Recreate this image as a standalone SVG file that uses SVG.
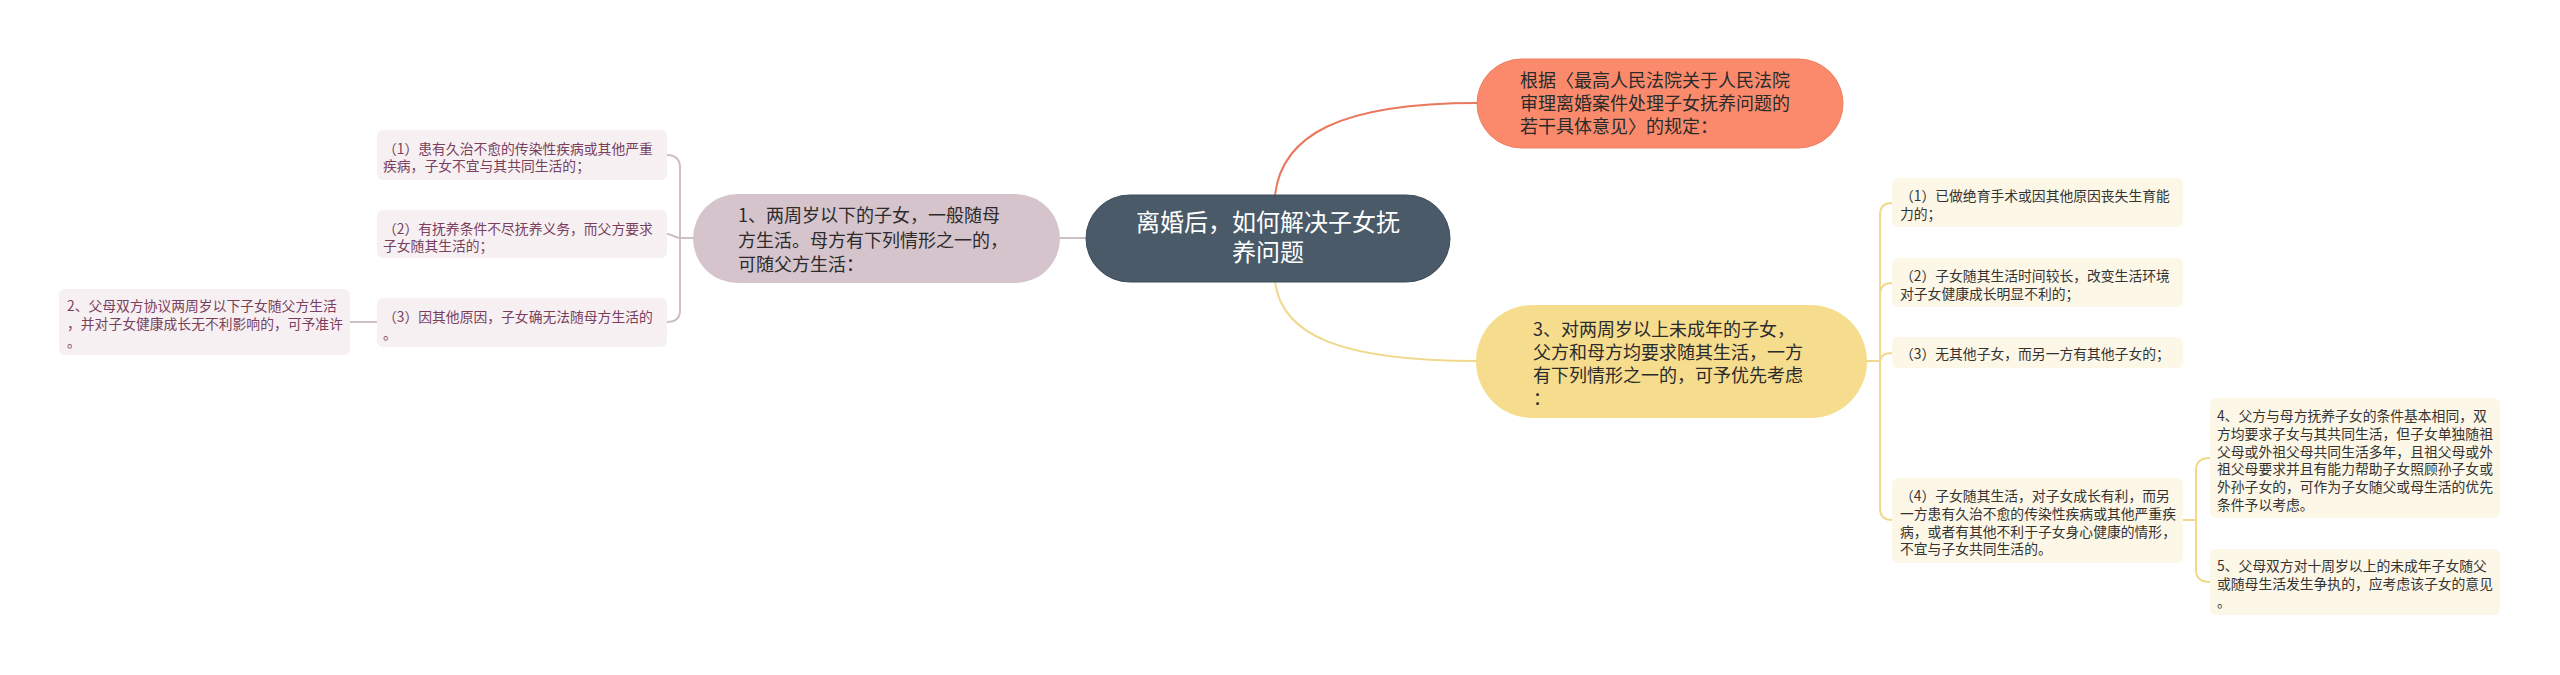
<svg xmlns="http://www.w3.org/2000/svg" width="2560" height="675" viewBox="0 0 2560 675">
<style>
text{font-family:"Microsoft YaHei","Noto Sans CJK SC","Noto Sans",sans-serif}
.c{fill:none;stroke-width:2;stroke-linecap:round}
.co{stroke:#e9785d}.cy{stroke:#f0d98c}.cp{stroke:#cfbec6}
.t18{font-size:18px;fill:#2b2b2b}
.sl{fill:#f6f0f3}.sr{fill:#fdf7e7}
.tl{font-size:13.8px;fill:#7a3f5d}
.tr{font-size:13.8px;fill:#333333}
</style>
<rect width="2560" height="675" fill="#ffffff"/>
<g id="connectors">
<path class="c co" d="M1275,195 C1282,135 1340,103 1477,103"/>
<path class="c cy" d="M1275,282 C1282,335 1340,361 1477,361"/>
<path class="c cp" d="M1060,238 L1086,238"/>
<path class="c cp" d="M693,238 L680,238"/>
<path class="c cp" d="M680,238 L680,168 Q680,155 667,155"/>
<path class="c cp" d="M680,238 C675,238 672,234 667,234"/>
<path class="c cp" d="M680,238 L680,310 Q680,322 667,322"/>
<path class="c cp" d="M377,322 L350,322"/>
<path class="c cy" d="M1867,361 L1880,361"/>
<path class="c cy" d="M1880,361 L1880,215 Q1880,203 1892,203"/>
<path class="c cy" d="M1880,361 L1880,295 Q1880,283 1892,283"/>
<path class="c cy" d="M1880,361 Q1881,353 1892,353"/>
<path class="c cy" d="M1880,361 L1880,508 Q1880,520 1892,520"/>
<path class="c cy" d="M2183,520 L2196,520"/>
<path class="c cy" d="M2196,520 L2196,470 Q2196,458 2210,458"/>
<path class="c cy" d="M2196,520 L2196,570 Q2196,582 2210,582"/>
</g>
<g id="center">
<rect x="1086" y="195" width="364" height="87" rx="43.5" fill="#4a5a69" stroke="#3f4d5b" stroke-width="1"/>
<text x="1268" y="231" font-size="24" fill="#ffffff" text-anchor="middle">离婚后，如何解决子女抚</text>
<text x="1268" y="261" font-size="24" fill="#ffffff" text-anchor="middle">养问题</text>
</g>
<g id="n-orange">
<rect x="1477" y="59" width="366" height="89" rx="44.5" fill="#fa8a6b" stroke="#ef7d5f" stroke-width="1"/>
<text class="t18" x="1520" y="87">根据〈最高人民法院关于人民法院</text>
<text class="t18" x="1520" y="110">审理离婚案件处理子女抚养问题的</text>
<text class="t18" x="1520" y="133">若干具体意见〉的规定：</text>
</g>
<g id="n-pink">
<rect x="693" y="194" width="367" height="89" rx="44.5" fill="#d6c4cc"/>
<text class="t18" x="738" y="222">1、两周岁以下的子女，一般随母</text>
<text class="t18" x="738" y="247">方生活。母方有下列情形之一的，</text>
<text class="t18" x="738" y="271">可随父方生活：</text>
</g>
<g id="n-yellow">
<rect x="1476" y="305" width="391" height="113" rx="56.5" fill="#f6dc8d"/>
<text class="t18" x="1533" y="336">3、对两周岁以上未成年的子女，</text>
<text class="t18" x="1533" y="359">父方和母方均要求随其生活，一方</text>
<text class="t18" x="1533" y="382">有下列情形之一的，可予优先考虑</text>
<text class="t18" x="1533" y="405">：</text>
</g>
<g id="l1">
<rect class="sl" x="377" y="130" width="290" height="50" rx="6"/>
<text class="tl" x="383" y="154">（1）患有久治不愈的传染性疾病或其他严重</text>
<text class="tl" x="383" y="171">疾病，子女不宜与其共同生活的；</text>
</g>
<g id="l2">
<rect class="sl" x="377" y="210" width="290" height="48" rx="6"/>
<text class="tl" x="383" y="234">（2）有抚养条件不尽抚养义务，而父方要求</text>
<text class="tl" x="383" y="251">子女随其生活的；</text>
</g>
<g id="l3">
<rect class="sl" x="377" y="298" width="290" height="49" rx="6"/>
<text class="tl" x="383" y="322">（3）因其他原因，子女确无法随母方生活的</text>
<text class="tl" x="383" y="339">。</text>
</g>
<g id="l0">
<rect class="sl" x="59" y="289" width="291" height="66" rx="6"/>
<text class="tl" x="67" y="311">2、父母双方协议两周岁以下子女随父方生活</text>
<text class="tl" x="67" y="329">，并对子女健康成长无不利影响的，可予准许</text>
<text class="tl" x="67" y="347">。</text>
</g>
<g id="r1">
<rect class="sr" x="1892" y="178" width="291" height="49" rx="6"/>
<text class="tr" x="1900" y="201">（1）已做绝育手术或因其他原因丧失生育能</text>
<text class="tr" x="1900" y="219">力的；</text>
</g>
<g id="r2">
<rect class="sr" x="1892" y="258" width="291" height="49" rx="6"/>
<text class="tr" x="1900" y="281">（2）子女随其生活时间较长，改变生活环境</text>
<text class="tr" x="1900" y="299">对子女健康成长明显不利的；</text>
</g>
<g id="r3">
<rect class="sr" x="1892" y="337" width="291" height="31" rx="6"/>
<text class="tr" x="1900" y="359">（3）无其他子女，而另一方有其他子女的；</text>
</g>
<g id="r4">
<rect class="sr" x="1892" y="478" width="291" height="85" rx="6"/>
<text class="tr" x="1900" y="501">（4）子女随其生活，对子女成长有利，而另</text>
<text class="tr" x="1900" y="519">一方患有久治不愈的传染性疾病或其他严重疾</text>
<text class="tr" x="1900" y="537">病，或者有其他不利于子女身心健康的情形，</text>
<text class="tr" x="1900" y="554">不宜与子女共同生活的。</text>
</g>
<g id="r5">
<rect class="sr" x="2210" y="398" width="290" height="120" rx="6"/>
<text class="tr" x="2217" y="421">4、父方与母方抚养子女的条件基本相同，双</text>
<text class="tr" x="2217" y="439">方均要求子女与其共同生活，但子女单独随祖</text>
<text class="tr" x="2217" y="457">父母或外祖父母共同生活多年，且祖父母或外</text>
<text class="tr" x="2217" y="474">祖父母要求并且有能力帮助子女照顾孙子女或</text>
<text class="tr" x="2217" y="492">外孙子女的，可作为子女随父或母生活的优先</text>
<text class="tr" x="2217" y="510">条件予以考虑。</text>
</g>
<g id="r6">
<rect class="sr" x="2210" y="549" width="290" height="66" rx="6"/>
<text class="tr" x="2217" y="571">5、父母双方对十周岁以上的未成年子女随父</text>
<text class="tr" x="2217" y="589">或随母生活发生争执的，应考虑该子女的意见</text>
<text class="tr" x="2217" y="607">。</text>
</g>
</svg>
